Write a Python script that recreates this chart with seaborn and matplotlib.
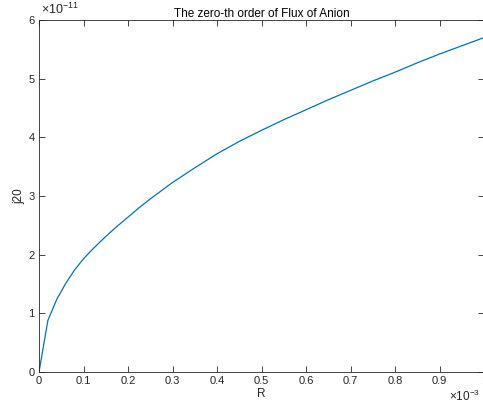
import numpy as np
import pandas as pd
import matplotlib
matplotlib.use("Agg")
import matplotlib.pyplot as plt
import seaborn as sns

# values (R in 1e-3, j20 in 1e-11)
r_vals = [0, 0.02, 0.04, 0.06, 0.08, 0.1, 0.12, 0.15, 0.175, 0.2, 0.225, 0.25,
          0.3, 0.35, 0.4, 0.45, 0.5, 0.55, 0.6, 0.65, 0.7, 0.75, 0.8, 0.85,
          0.9, 0.95, 1.0]
j20_vals = [0, 0.88, 1.24, 1.51, 1.74, 1.93, 2.09, 2.31, 2.48, 2.64, 2.80, 2.95,
            3.23, 3.48, 3.72, 3.93, 4.12, 4.30, 4.47, 4.64, 4.80, 4.96, 5.11, 5.27,
            5.42, 5.56, 5.70]
x_ticks = [0, 0.1, 0.2, 0.3, 0.4, 0.5, 0.6, 0.7, 0.8, 0.9, 1]
y_ticks = [0, 1, 2, 3, 4, 5, 6]

df = pd.DataFrame({"R": r_vals, "j20": j20_vals})

sns.set_style("ticks")
plt.rcParams['font.family'] = ['Liberation Sans', 'DejaVu Sans']
plt.rcParams['mathtext.fontset'] = 'custom'
plt.rcParams['mathtext.rm'] = 'Liberation Sans'
plt.rcParams['mathtext.it'] = 'Liberation Sans'
gray = "#262626"

fig = plt.figure(figsize=(4.83, 4.07), dpi=100)
ax = fig.add_axes([39 / 483, 35 / 407, 445 / 483, 352 / 407])

sns.lineplot(data=df, x="R", y="j20", ax=ax, color="#0072BD", linewidth=0.9)

ax.set_xlim(0, 1)
ax.set_ylim(0, 6)
ax.set_xticks(x_ticks)
ax.set_xticklabels([f"{t:g}" for t in x_ticks])
ax.set_yticks(y_ticks)
ax.tick_params(direction="in", top=True, right=True, length=4, width=0.6,
               labelsize=8, colors=gray, pad=3)
for s in ax.spines.values():
    s.set_visible(True)
    s.set_linewidth(0.6)
    s.set_color(gray)

ax.set_xlabel("R", fontsize=8.5, color=gray, labelpad=1)
ax.set_ylabel("j20", fontsize=8.5, color=gray, labelpad=2)
ax.set_title("The zero-th order of Flux of Anion", fontsize=8.5, color="black", pad=2)

fig.text(41 / 483, 1 - 2 / 407, r"$\times10^{-11}$", fontsize=9,
         color=gray, ha="left", va="top")
fig.text(449 / 483, 1 - 389 / 407, r"$\times10^{-3}$", fontsize=8.5,
         color=gray, ha="left", va="top")

fig.savefig("out.png", dpi=100)
